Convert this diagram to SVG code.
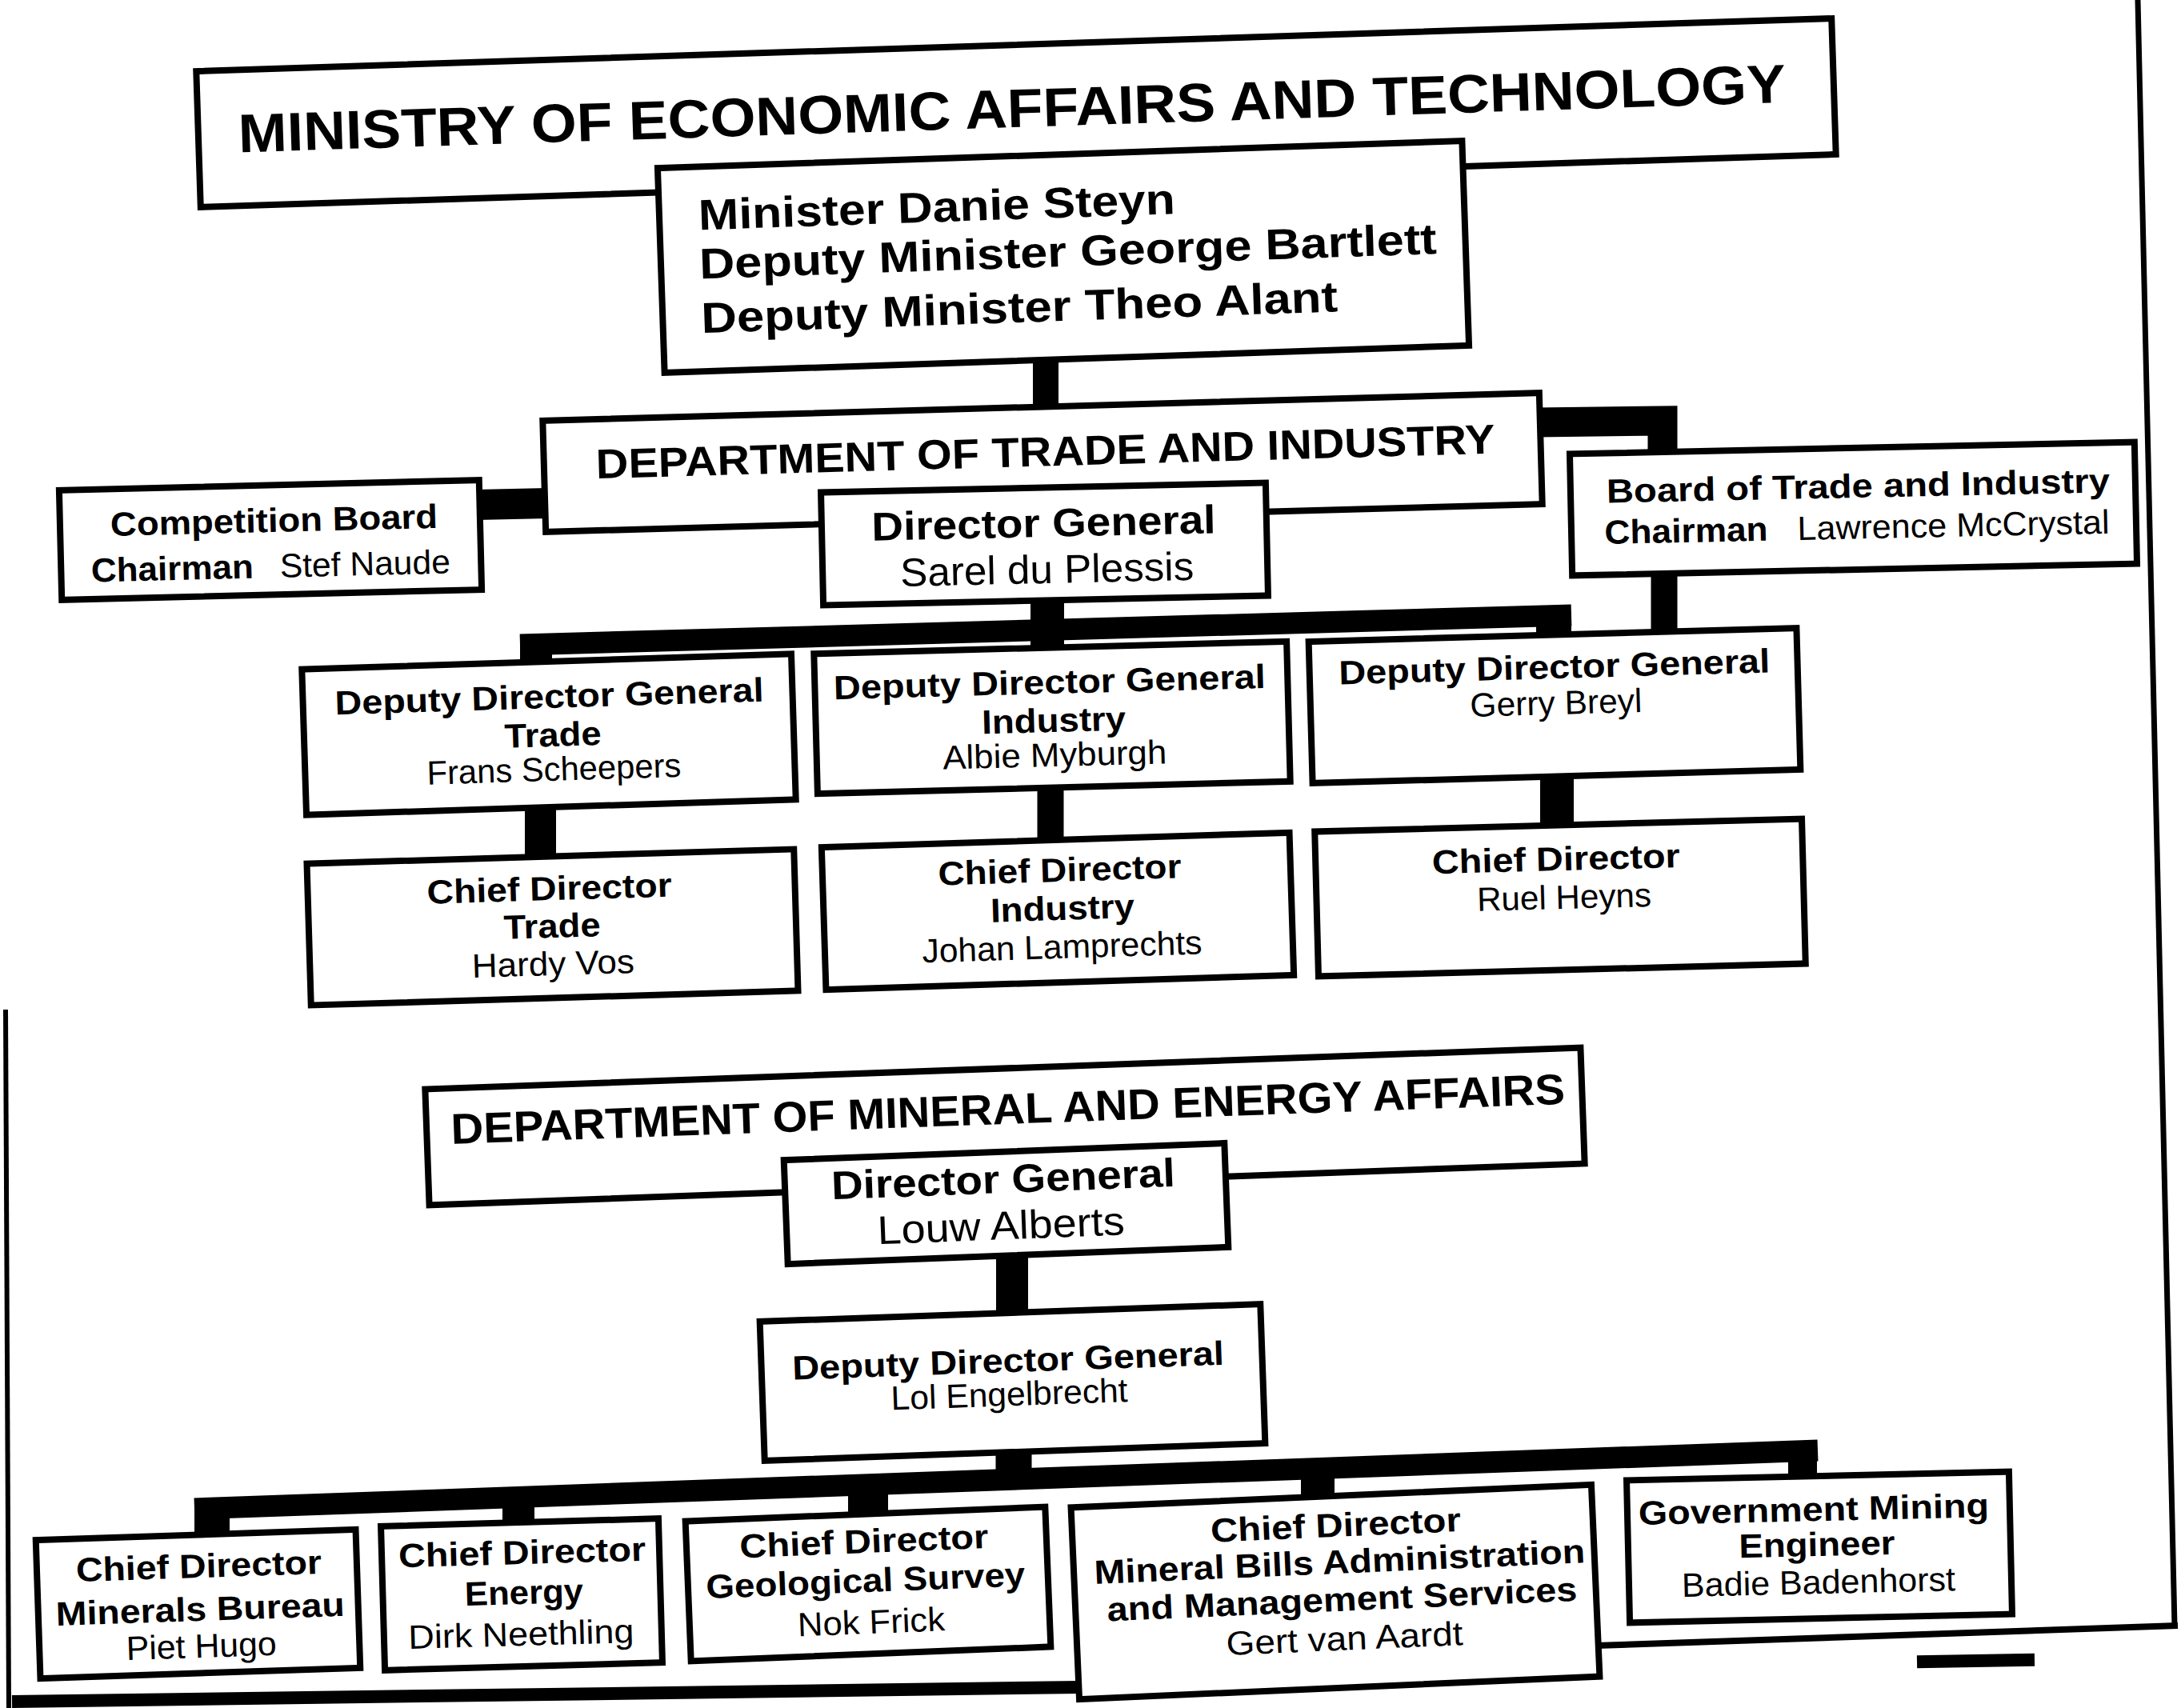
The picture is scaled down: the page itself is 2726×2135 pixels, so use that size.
<svg xmlns="http://www.w3.org/2000/svg" width="2726" height="2135" viewBox="0 0 2726 2135">
<style>
.box{fill:#fff;stroke:#000;stroke-width:8}
.b{font-family:'Liberation Sans',Arial,sans-serif;font-weight:bold;fill:#000}
.r{font-family:'Liberation Sans',Arial,sans-serif;font-weight:normal;fill:#000}
.m{text-anchor:middle}
.c{stroke:#000;fill:none;stroke-linecap:butt;stroke-linejoin:miter}
.frame{stroke:#000;fill:none}
</style>
<rect width="2726" height="2135" fill="#fff"/>
<g id="frame">
<line class="frame" x1="2672" y1="0" x2="2718" y2="2033" stroke-width="7"/>
<line class="frame" x1="1995" y1="2057" x2="2722" y2="2032" stroke-width="8"/>
<line class="frame" x1="7" y1="1262" x2="11" y2="2135" stroke-width="6"/>
<line class="frame" x1="15" y1="2127" x2="1350" y2="2109" stroke-width="16"/>
<rect x="2396" y="2068" width="147" height="16" fill="#000" transform="rotate(-1 2470 2076)"/>
</g>
<g id="connectors">
<line class="c" x1="1307" y1="440" x2="1307" y2="515" stroke-width="32"/>
<line class="c" x1="595" y1="631" x2="685" y2="629" stroke-width="38"/>
<polyline class="c" points="1920,528 2078,526 2078,572" stroke-width="37"/>
<line class="c" x1="2080" y1="712" x2="2080" y2="797" stroke-width="33"/>
<line class="c" x1="1309" y1="745" x2="1309" y2="814" stroke-width="42"/>
<line class="c" x1="650" y1="806" x2="1964" y2="769" stroke-width="27"/>
<line class="c" x1="670" y1="806" x2="670" y2="835" stroke-width="40"/>
<line class="c" x1="1942" y1="770" x2="1942" y2="800" stroke-width="44"/>
<line class="c" x1="675.5" y1="995" x2="675.5" y2="1080" stroke-width="39"/>
<line class="c" x1="1313" y1="975" x2="1313" y2="1058" stroke-width="33"/>
<line class="c" x1="1946" y1="962" x2="1946" y2="1040" stroke-width="42"/>
<line class="c" x1="1265" y1="1565" x2="1265" y2="1650" stroke-width="40"/>
<line class="c" x1="1267" y1="1805" x2="1267" y2="1845" stroke-width="45"/>
<line class="c" x1="243" y1="1886" x2="2272" y2="1813" stroke-width="27"/>
<line class="c" x1="265" y1="1880" x2="265" y2="1925" stroke-width="44"/>
<line class="c" x1="648" y1="1870" x2="648" y2="1908" stroke-width="40"/>
<line class="c" x1="1085" y1="1855" x2="1085" y2="1892" stroke-width="50"/>
<line class="c" x1="1647" y1="1835" x2="1647" y2="1872" stroke-width="42"/>
<line class="c" x1="2253" y1="1810" x2="2253" y2="1850" stroke-width="36"/>
</g>
<g id="ministry" transform="rotate(-1.85 1270 141)">
<rect class="box" x="247.5" y="56" width="2045" height="170"/>
<text class="b m" x="1265" y="159" font-size="68" textLength="1935" lengthAdjust="spacingAndGlyphs">MINISTRY OF ECONOMIC AFFAIRS AND TECHNOLOGY</text>
</g>
<g id="minister" transform="rotate(-1.94 1329 321)">
<rect class="box" x="826" y="193" width="1006" height="256"/>
<text class="b" x="875" y="272" font-size="54" textLength="596" lengthAdjust="spacingAndGlyphs">Minister Danie Steyn</text>
<text class="b" x="874" y="333" font-size="54" textLength="922" lengthAdjust="spacingAndGlyphs">Deputy Minister George Bartlett</text>
<text class="b" x="874" y="401" font-size="54" textLength="796" lengthAdjust="spacingAndGlyphs">Deputy Minister Theo Alant</text>
</g>
<g id="dti" transform="rotate(-1.6 1303 578)">
<rect class="box" x="680" y="508.5" width="1246" height="139"/>
<text class="b m" x="1307" y="582.5" font-size="52" textLength="1124" lengthAdjust="spacingAndGlyphs">DEPARTMENT OF TRADE AND INDUSTRY</text>
</g>
<g id="dg-trade" transform="rotate(-1.24 1305.5 680)">
<rect class="box" x="1027.5" y="609.5" width="556" height="141"/>
<text class="b m" x="1305" y="671" font-size="50" textLength="430" lengthAdjust="spacingAndGlyphs">Director General</text>
<text class="r m" x="1308" y="729" font-size="50" textLength="367" lengthAdjust="spacingAndGlyphs">Sarel du Plessis</text>
</g>
<g id="competition-board" transform="rotate(-1.4 338 675)">
<rect class="box" x="75.5" y="606.5" width="525" height="137"/>
<text class="b m" x="343" y="665" font-size="42" textLength="409" lengthAdjust="spacingAndGlyphs">Competition Board</text>
<text class="b" x="113" y="722" font-size="42" textLength="203" lengthAdjust="spacingAndGlyphs">Chairman</text>
<text class="r" x="349" y="722" font-size="42" textLength="213" lengthAdjust="spacingAndGlyphs">Stef Naude</text>
</g>
<g id="board-trade-industry" transform="rotate(-1.2 2316.5 636)">
<rect class="box" x="1963.5" y="560" width="706" height="152"/>
<text class="b m" x="2323" y="622" font-size="42" textLength="629" lengthAdjust="spacingAndGlyphs">Board of Trade and Industry</text>
<text class="b" x="2005" y="673.5" font-size="42" textLength="204" lengthAdjust="spacingAndGlyphs">Chairman</text>
<text class="r" x="2246" y="673.5" font-size="42" textLength="390" lengthAdjust="spacingAndGlyphs">Lawrence McCrystal</text>
</g>
<g id="ddg-trade" transform="rotate(-1.8 686 918)">
<rect class="box" x="380" y="827" width="612" height="182"/>
<text class="b m" x="688" y="885" font-size="42" textLength="536" lengthAdjust="spacingAndGlyphs">Deputy Director General</text>
<text class="b m" x="691" y="933" font-size="42" textLength="121" lengthAdjust="spacingAndGlyphs">Trade</text>
<text class="r m" x="691" y="976" font-size="42" textLength="318" lengthAdjust="spacingAndGlyphs">Frans Scheepers</text>
</g>
<g id="ddg-industry" transform="rotate(-1.5 1315 897)">
<rect class="box" x="1019.5" y="809.5" width="591" height="175"/>
<text class="b m" x="1313" y="867" font-size="42" textLength="540" lengthAdjust="spacingAndGlyphs">Deputy Director General</text>
<text class="b m" x="1317" y="915" font-size="42" textLength="180" lengthAdjust="spacingAndGlyphs">Industry</text>
<text class="r m" x="1317" y="958" font-size="42" textLength="280" lengthAdjust="spacingAndGlyphs">Albie Myburgh</text>
</g>
<g id="ddg-breyl" transform="rotate(-1.6 1943 882)">
<rect class="box" x="1638" y="793.5" width="610" height="177"/>
<text class="b m" x="1944" y="848" font-size="42" textLength="539" lengthAdjust="spacingAndGlyphs">Deputy Director General</text>
<text class="r m" x="1945" y="893" font-size="42" textLength="215" lengthAdjust="spacingAndGlyphs">Gerry Breyl</text>
</g>
<g id="cd-trade" transform="rotate(-1.7 690.5 1159)">
<rect class="box" x="386" y="1070.5" width="609" height="177"/>
<text class="b m" x="688" y="1125" font-size="42" textLength="306" lengthAdjust="spacingAndGlyphs">Chief Director</text>
<text class="b m" x="690" y="1172" font-size="42" textLength="121" lengthAdjust="spacingAndGlyphs">Trade</text>
<text class="r m" x="690" y="1219" font-size="42" textLength="203" lengthAdjust="spacingAndGlyphs">Hardy Vos</text>
</g>
<g id="cd-industry" transform="rotate(-1.8 1322 1139)">
<rect class="box" x="1029.5" y="1050" width="585" height="178"/>
<text class="b m" x="1326" y="1102" font-size="42" textLength="304" lengthAdjust="spacingAndGlyphs">Chief Director</text>
<text class="b m" x="1328" y="1150" font-size="42" textLength="180" lengthAdjust="spacingAndGlyphs">Industry</text>
<text class="r m" x="1326" y="1198" font-size="42" textLength="350" lengthAdjust="spacingAndGlyphs">Johan Lamprechts</text>
</g>
<g id="cd-heyns" transform="rotate(-1.5 1950 1122)">
<rect class="box" x="1645.5" y="1031.5" width="609" height="181"/>
<text class="b m" x="1946" y="1088" font-size="42" textLength="310" lengthAdjust="spacingAndGlyphs">Chief Director</text>
<text class="r m" x="1955" y="1136" font-size="42" textLength="218" lengthAdjust="spacingAndGlyphs">Ruel Heyns</text>
</g>
<g id="dmea" transform="rotate(-2.06 1256 1408)">
<rect class="box" x="533.5" y="1335.5" width="1445" height="145"/>
<text class="b m" x="1260.5" y="1405" font-size="54" textLength="1393" lengthAdjust="spacingAndGlyphs">DEPARTMENT OF MINERAL AND ENERGY AFFAIRS</text>
</g>
<g id="dg-mineral" transform="rotate(-2.2 1257.5 1504.5)">
<rect class="box" x="982" y="1439.5" width="551" height="130"/>
<text class="b m" x="1255" y="1491" font-size="50" textLength="430" lengthAdjust="spacingAndGlyphs">Director General</text>
<text class="r m" x="1250" y="1549" font-size="50" textLength="309" lengthAdjust="spacingAndGlyphs">Louw Alberts</text>
</g>
<g id="ddg-mineral" transform="rotate(-2 1265.5 1728)">
<rect class="box" x="952.5" y="1641" width="626" height="174"/>
<text class="b m" x="1261" y="1715" font-size="42" textLength="540" lengthAdjust="spacingAndGlyphs">Deputy Director General</text>
<text class="r m" x="1261" y="1757" font-size="42" textLength="296" lengthAdjust="spacingAndGlyphs">Lol Engelbrecht</text>
</g>
<g id="cd-minerals-bureau" transform="rotate(-1.9 247.5 2005)">
<rect class="box" x="47.5" y="1918.5" width="400" height="173"/>
<text class="b m" x="250" y="1972" font-size="42" textLength="307" lengthAdjust="spacingAndGlyphs">Chief Director</text>
<text class="b m" x="250" y="2026" font-size="42" textLength="361" lengthAdjust="spacingAndGlyphs">Minerals Bureau</text>
<text class="r m" x="250" y="2072" font-size="42" textLength="188" lengthAdjust="spacingAndGlyphs">Piet Hugo</text>
</g>
<g id="cd-energy" transform="rotate(-1.6 652 1993)">
<rect class="box" x="478.5" y="1903" width="347" height="180"/>
<text class="b m" x="654" y="1955" font-size="42" textLength="309" lengthAdjust="spacingAndGlyphs">Chief Director</text>
<text class="b m" x="655" y="2005" font-size="42" textLength="148" lengthAdjust="spacingAndGlyphs">Energy</text>
<text class="r m" x="650" y="2057" font-size="42" textLength="282" lengthAdjust="spacingAndGlyphs">Dirk Neethling</text>
</g>
<g id="cd-geological" transform="rotate(-2.3 1085 1980)">
<rect class="box" x="860" y="1892.5" width="450" height="175"/>
<text class="b m" x="1082" y="1941" font-size="42" textLength="311" lengthAdjust="spacingAndGlyphs">Chief Director</text>
<text class="b m" x="1082" y="1990" font-size="42" textLength="399" lengthAdjust="spacingAndGlyphs">Geological Survey</text>
<text class="r m" x="1087" y="2042" font-size="42" textLength="184" lengthAdjust="spacingAndGlyphs">Nok Frick</text>
</g>
<g id="cd-mineral-bills" transform="rotate(-2.5 1669 1990)">
<rect class="box" x="1343.5" y="1870" width="651" height="240"/>
<text class="b m" x="1673" y="1921" font-size="42" textLength="313" lengthAdjust="spacingAndGlyphs">Chief Director</text>
<text class="b m" x="1676" y="1967" font-size="42" textLength="614" lengthAdjust="spacingAndGlyphs">Mineral Bills Administration</text>
<text class="b m" x="1677" y="2014" font-size="42" textLength="588" lengthAdjust="spacingAndGlyphs">and Management Services</text>
<text class="r m" x="1678" y="2063" font-size="42" textLength="296" lengthAdjust="spacingAndGlyphs">Gert van Aardt</text>
</g>
<g id="gov-mining-engineer" transform="rotate(-1.3 2274 1934)">
<rect class="box" x="2035" y="1845" width="478" height="178"/>
<text class="b m" x="2268" y="1901" font-size="42" textLength="438" lengthAdjust="spacingAndGlyphs">Government Mining</text>
<text class="b m" x="2271" y="1945" font-size="42" textLength="195" lengthAdjust="spacingAndGlyphs">Engineer</text>
<text class="r m" x="2272" y="1992" font-size="42" textLength="342" lengthAdjust="spacingAndGlyphs">Badie Badenhorst</text>
</g>
</svg>
